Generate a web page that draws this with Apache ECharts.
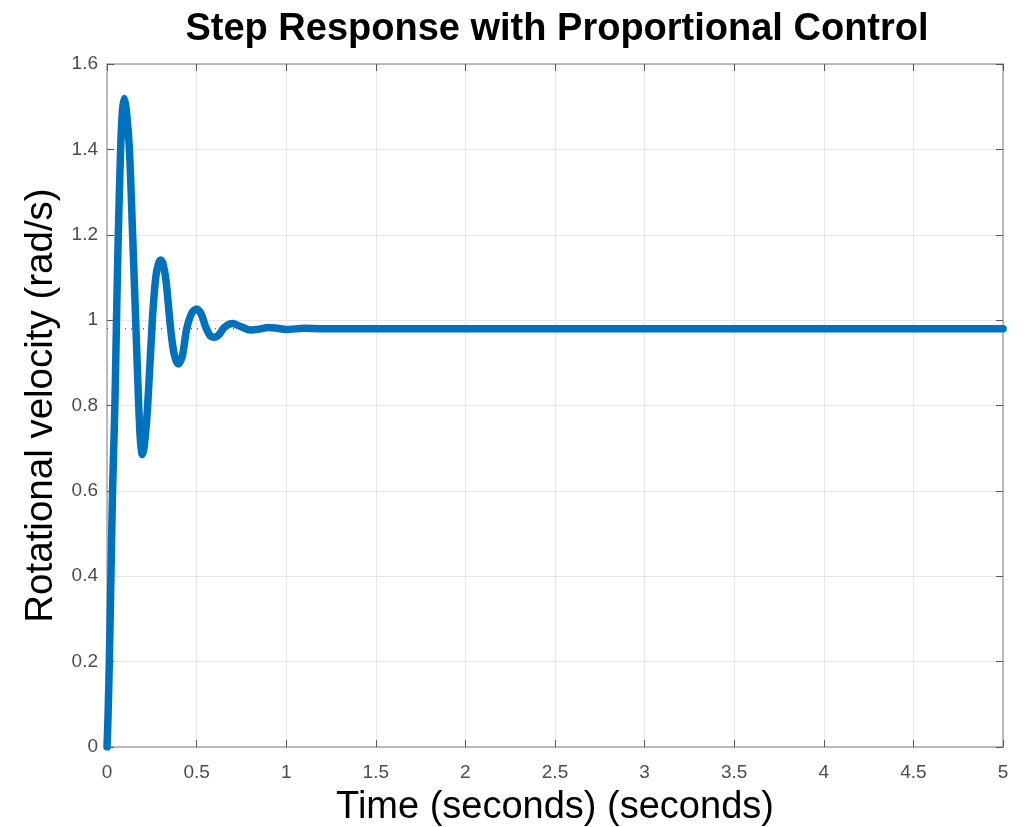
<!DOCTYPE html>
<html>
<head>
<meta charset="utf-8">
<script src="https://cdn.jsdelivr.net/npm/echarts@6/dist/echarts.min.js"></script>
<style>
html,body{margin:0;padding:0;background:#fff;}
#main{width:1028px;height:827px;}
</style>
</head>
<body>
<div id="main"></div>
<script>
var times = [0, 0.0056, 0.013, 0.022, 0.031, 0.044, 0.053, 0.063, 0.076, 0.086, 0.0966,
  0.107, 0.125, 0.143, 0.16, 0.177, 0.187, 0.197, 0.208, 0.227, 0.253, 0.272,
  0.288, 0.3, 0.313, 0.33, 0.355, 0.375, 0.398, 0.42, 0.445, 0.475, 0.5, 0.525, 0.55,
  0.575, 0.6, 0.625, 0.655, 0.7, 0.745, 0.8, 0.85, 0.9, 0.95, 1.0, 1.1, 1.2, 1.5, 2, 3, 4, 5];
var velocity = [0, 0.07, 0.2, 0.4, 0.6, 0.8, 1.0, 1.2, 1.4, 1.49, 1.519,
  1.495, 1.4, 1.2, 1.0, 0.8, 0.715, 0.685, 0.705, 0.8, 1.0, 1.1,
  1.133, 1.141, 1.132, 1.09, 0.98, 0.92, 0.897, 0.915, 0.98, 1.018, 1.026, 1.015, 0.985,
  0.964, 0.96, 0.966, 0.983, 0.992, 0.985, 0.977, 0.979, 0.983, 0.981, 0.978, 0.981, 0.98, 0.98, 0.98, 0.98, 0.98, 0.98];
var steadyState = 0.98;

var pts = [];
for (var i = 0; i < times.length; i++) {
  pts.push([times[i], velocity[i]]);
}

var myChart = echarts.init(document.getElementById('main'));

var font = 'Liberation Sans, Arial, sans-serif';
var boxColor = '#a8a8a8';
var labelStyle = { color: '#4d4d4d', fontSize: 19, fontFamily: font };

var option = {
  animation: false,
  backgroundColor: '#fff',
  title: {
    text: 'Step Response with Proportional Control',
    left: 552,
    textAlign: 'center',
    top: 6,
    textStyle: { fontSize: 38, fontWeight: 'bold', color: '#000', fontFamily: font }
  },
  grid: { left: 107, right: 25, top: 64, bottom: 80, outerBoundsMode: 'none', containLabel: false },
  xAxis: [{
    type: 'value', min: 0, max: 5, interval: 0.5,
    name: 'Time (seconds) (seconds)', nameLocation: 'middle', nameGap: 42,
    nameTextStyle: { fontSize: 38, color: '#000', fontFamily: font },
    axisLine: { onZero: false, lineStyle: { color: boxColor, width: 1.5 } },
    axisTick: { inside: true, length: 7, lineStyle: { color: '#555' } },
    axisLabel: Object.assign({ margin: 16 }, labelStyle),
    splitLine: { show: true, lineStyle: { color: '#e6e6e6', width: 1 } }
  }, {
    type: 'value', min: 0, max: 5, interval: 0.5, position: 'top',
    axisLine: { show: true, onZero: false, lineStyle: { color: boxColor, width: 1.5 } },
    axisTick: { show: true, inside: true, length: 7, lineStyle: { color: '#555' } },
    axisLabel: { show: false }, splitLine: { show: false }
  }],
  yAxis: [{
    type: 'value', min: 0, max: 1.6, interval: 0.2,
    name: 'Rotational velocity (rad/s)', nameLocation: 'middle', nameGap: 45,
    nameTextStyle: { fontSize: 38.5, color: '#000', fontFamily: font },
    axisLine: { show: true, onZero: false, lineStyle: { color: boxColor, width: 1.5 } },
    axisTick: { show: true, inside: true, length: 7, lineStyle: { color: '#555' } },
    axisLabel: Object.assign({ margin: 9, formatter: function (v) { return String(+v.toFixed(1)); } }, labelStyle),
    splitLine: { show: true, lineStyle: { color: '#e6e6e6', width: 1 } }
  }, {
    type: 'value', min: 0, max: 1.6, interval: 0.2, position: 'right',
    axisLine: { show: true, onZero: false, lineStyle: { color: boxColor, width: 1.5 } },
    axisTick: { show: true, inside: true, length: 7, lineStyle: { color: '#555' } },
    axisLabel: { show: false }, splitLine: { show: false }
  }],
  series: [{
    type: 'line',
    data: [[0, steadyState], [5, steadyState]],
    symbol: 'none',
    z: 1,
    lineStyle: { color: '#333', width: 1, type: [1, 5] }
  }, {
    type: 'line',
    data: pts,
    symbol: 'none',
    smooth: 0.3,
    z: 3,
    lineStyle: { color: '#0072BD', width: 7.5, cap: 'round', join: 'round' }
  }]
};
myChart.setOption(option);
</script>
</body>
</html>
